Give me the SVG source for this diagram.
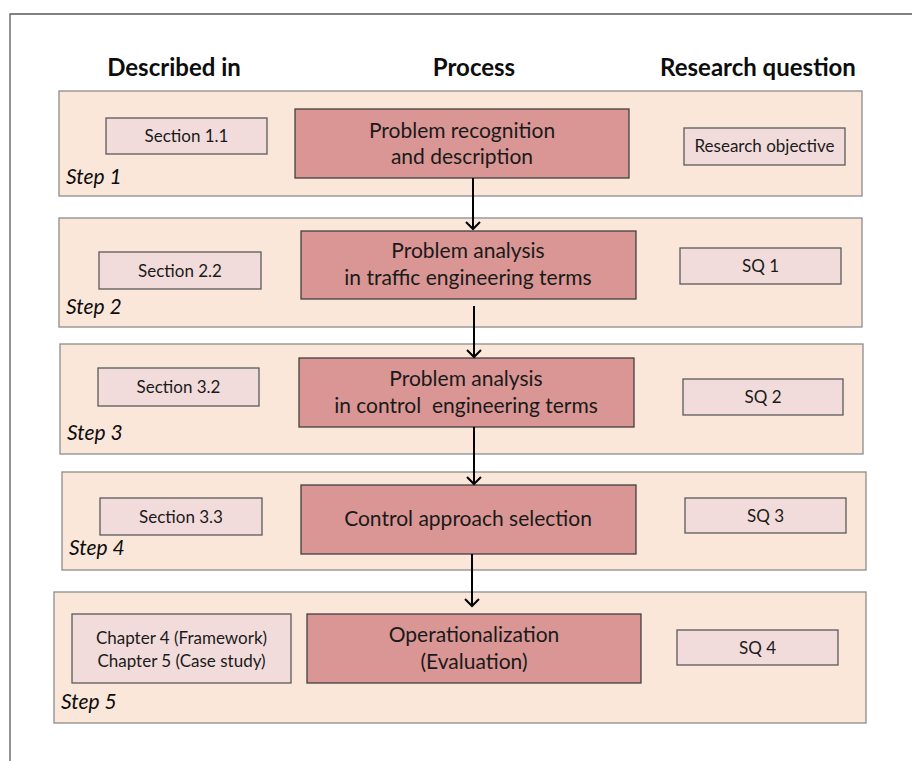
<svg xmlns="http://www.w3.org/2000/svg" width="912" height="761" viewBox="0 0 912 761">
  <defs>
    <style>
      .frame { fill: none; stroke: #595959; stroke-width: 1.3; }
      .band { fill: #fbe7da; stroke: #8c8c8c; stroke-width: 1.3; }
      .ref { fill: #f2dcdb; stroke: #595959; stroke-width: 1.3; }
      .proc { fill: #d99694; stroke: #404040; stroke-width: 1.3; }
      .hdr { font-family: Lato, "Liberation Sans", sans-serif; font-weight: bold; font-size: 24px; fill: #0d0d0d; text-anchor: middle; }
      .ptxt { font-family: Lato, "Liberation Sans", sans-serif; font-size: 21px; fill: #1a1a1a; text-anchor: middle; }
      .rtxt { font-family: Lato, "Liberation Sans", sans-serif; font-size: 17px; fill: #1a1a1a; text-anchor: middle; }
      .step { font-family: Lato, "Liberation Sans", sans-serif; font-style: italic; font-size: 21px; fill: #0d0d0d; }
      .conn { stroke: #000; stroke-width: 2; fill: none; }
    </style>
    <marker id="arrow" viewBox="0 0 12 16" refX="10" refY="8" markerWidth="12" markerHeight="16" markerUnits="userSpaceOnUse" orient="auto">
      <path d="M3,1 L10,8 L3,15" fill="none" stroke="#000" stroke-width="2"/>
    </marker>
  </defs>

  <!-- outer frame -->
  <path class="frame" d="M10,761 V14 H912"/>

  <!-- column headings -->
  <text class="hdr" x="174" y="76">Described in</text>
  <text class="hdr" x="474" y="76">Process</text>
  <text class="hdr" x="758" y="76">Research question</text>

  <!-- step bands -->
  <g id="step1">
    <rect class="band" x="59" y="91" width="803" height="105"/>
    <text class="step" x="66" y="184">Step 1</text>
    <rect class="ref" x="106" y="118" width="161" height="36"/>
    <text class="rtxt" x="186.5" y="142">Section 1.1</text>
    <rect class="proc" x="295" y="109" width="334" height="69"/>
    <text class="ptxt" x="462" y="138">Problem recognition</text>
    <text class="ptxt" x="462" y="164">and description</text>
    <rect class="ref" x="684" y="128" width="161" height="37"/>
    <text class="rtxt" x="764.5" y="152">Research objective</text>
  </g>

  <g id="step2">
    <rect class="band" x="59" y="218" width="803" height="109"/>
    <text class="step" x="66" y="314">Step 2</text>
    <rect class="ref" x="99" y="252" width="162" height="37"/>
    <text class="rtxt" x="180" y="277">Section 2.2</text>
    <rect class="proc" x="301" y="231" width="335" height="68"/>
    <text class="ptxt" x="468" y="258">Problem analysis</text>
    <text class="ptxt" x="468" y="285">in traffic engineering terms</text>
    <rect class="ref" x="680" y="248" width="161" height="36"/>
    <text class="rtxt" x="760.5" y="272">SQ 1</text>
  </g>

  <g id="step3">
    <rect class="band" x="60" y="344" width="803" height="110"/>
    <text class="step" x="67" y="440">Step 3</text>
    <rect class="ref" x="98" y="368" width="161" height="38"/>
    <text class="rtxt" x="178.5" y="393">Section 3.2</text>
    <rect class="proc" x="299" y="358" width="335" height="69"/>
    <text class="ptxt" x="466" y="386">Problem analysis</text>
    <text class="ptxt" x="466" y="413" xml:space="preserve">in control  engineering terms</text>
    <rect class="ref" x="683" y="379" width="160" height="36"/>
    <text class="rtxt" x="763" y="403">SQ 2</text>
  </g>

  <g id="step4">
    <rect class="band" x="62" y="472" width="804" height="98"/>
    <text class="step" x="69" y="555">Step 4</text>
    <rect class="ref" x="100" y="498" width="162" height="37"/>
    <text class="rtxt" x="181" y="523">Section 3.3</text>
    <rect class="proc" x="301" y="485" width="335" height="69"/>
    <text class="ptxt" x="468" y="526">Control approach selection</text>
    <rect class="ref" x="685" y="498" width="161" height="35"/>
    <text class="rtxt" x="765.5" y="522">SQ 3</text>
  </g>

  <g id="step5">
    <rect class="band" x="54" y="592" width="812" height="131"/>
    <text class="step" x="61" y="709">Step 5</text>
    <rect class="ref" x="72" y="614" width="219" height="69"/>
    <text class="rtxt" x="181.5" y="644">Chapter 4 (Framework)</text>
    <text class="rtxt" x="181.5" y="667">Chapter 5 (Case study)</text>
    <rect class="proc" x="307" y="614" width="334" height="69"/>
    <text class="ptxt" x="474" y="642">Operationalization</text>
    <text class="ptxt" x="474" y="669">(Evaluation)</text>
    <rect class="ref" x="677" y="630" width="161" height="35"/>
    <text class="rtxt" x="757.5" y="654">SQ 4</text>
  </g>

  <!-- connectors between process steps -->
  <g id="connectors">
    <line class="conn" x1="473" y1="178" x2="473" y2="229" marker-end="url(#arrow)"/>
    <line class="conn" x1="474" y1="306" x2="474" y2="357" marker-end="url(#arrow)"/>
    <line class="conn" x1="474" y1="427" x2="474" y2="484" marker-end="url(#arrow)"/>
    <line class="conn" x1="472" y1="554" x2="472" y2="606" marker-end="url(#arrow)"/>
  </g>
</svg>
